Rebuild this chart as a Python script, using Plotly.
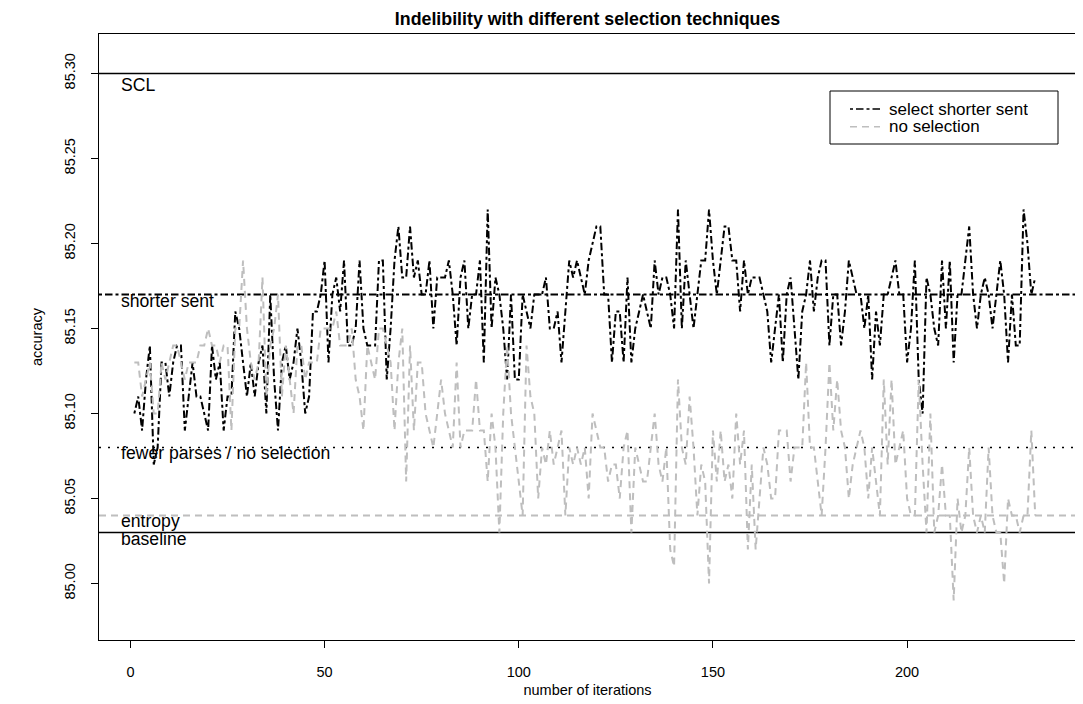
import plotly.graph_objects as go

# ---------------- data ----------------
shorter_sent = [
    85.10, 85.11, 85.09, 85.12, 85.14, 85.07, 85.08, 85.13, 85.13, 85.11,
    85.13, 85.14, 85.14, 85.09, 85.11, 85.13, 85.11, 85.11, 85.10, 85.09,
    85.14, 85.12, 85.13, 85.09, 85.11, 85.11, 85.16, 85.15, 85.13, 85.11,
    85.13, 85.11, 85.13, 85.14, 85.10, 85.17, 85.12, 85.09, 85.13, 85.14,
    85.12, 85.13, 85.15, 85.13, 85.10, 85.11, 85.16, 85.16, 85.17, 85.19,
    85.13, 85.17, 85.18, 85.16, 85.19, 85.14, 85.14, 85.15, 85.19, 85.15,
    85.14, 85.14, 85.14, 85.19, 85.19, 85.12, 85.15, 85.19, 85.21, 85.18,
    85.18, 85.21, 85.18, 85.19, 85.17, 85.17, 85.19, 85.15, 85.18, 85.18,
    85.18, 85.19, 85.17, 85.14, 85.18, 85.19, 85.15, 85.17, 85.17, 85.19,
    85.13, 85.22, 85.15, 85.18, 85.17, 85.15, 85.12, 85.17, 85.12, 85.12,
    85.17, 85.16, 85.15, 85.17, 85.17, 85.17, 85.18, 85.15, 85.15, 85.16,
    85.13, 85.16, 85.19, 85.18, 85.19, 85.18, 85.17, 85.19, 85.20, 85.21,
    85.21, 85.17, 85.17, 85.13, 85.16, 85.16, 85.13, 85.18, 85.13, 85.15,
    85.16, 85.17, 85.16, 85.15, 85.19, 85.17, 85.18, 85.18, 85.17, 85.15,
    85.22, 85.15, 85.19, 85.17, 85.15, 85.17, 85.19, 85.19, 85.22, 85.19,
    85.17, 85.19, 85.21, 85.21, 85.19, 85.19, 85.16, 85.19, 85.17, 85.18,
    85.18, 85.18, 85.17, 85.16, 85.13, 85.15, 85.17, 85.13, 85.17, 85.18,
    85.15, 85.12, 85.16, 85.17, 85.19, 85.16, 85.18, 85.19, 85.19, 85.14,
    85.17, 85.17, 85.14, 85.16, 85.19, 85.18, 85.17, 85.17, 85.15, 85.17,
    85.12, 85.16, 85.14, 85.17, 85.17, 85.18, 85.19, 85.17, 85.17, 85.13,
    85.15, 85.19, 85.12, 85.10, 85.18, 85.17, 85.15, 85.14, 85.19, 85.15,
    85.19, 85.13, 85.17, 85.17, 85.19, 85.21, 85.17, 85.15, 85.17, 85.18,
    85.17, 85.15, 85.17, 85.19, 85.17, 85.13, 85.17, 85.14, 85.14, 85.22,
    85.20, 85.17, 85.18,
]

no_selection = [
    85.13, 85.13, 85.11, 85.12, 85.13, 85.10, 85.10, 85.13, 85.12, 85.13,
    85.14, 85.14, 85.13, 85.12, 85.13, 85.13, 85.13, 85.14, 85.14, 85.15,
    85.14, 85.14, 85.13, 85.14, 85.14, 85.09, 85.15, 85.15, 85.19, 85.15,
    85.13, 85.12, 85.13, 85.18, 85.11, 85.14, 85.15, 85.17, 85.11, 85.14,
    85.12, 85.10, 85.14, 85.14, 85.12, 85.13, 85.13, 85.13, 85.15, 85.15,
    85.15, 85.15, 85.16, 85.14, 85.14, 85.14, 85.15, 85.12, 85.11, 85.09,
    85.14, 85.13, 85.12, 85.15, 85.15, 85.14, 85.13, 85.09, 85.13, 85.15,
    85.06, 85.14, 85.09, 85.13, 85.13, 85.10, 85.09, 85.08, 85.10, 85.12,
    85.10, 85.09, 85.08, 85.13, 85.08, 85.09, 85.09, 85.09, 85.12, 85.09,
    85.09, 85.06, 85.10, 85.08, 85.03, 85.10, 85.14, 85.10, 85.08, 85.06,
    85.04, 85.14, 85.11, 85.10, 85.05, 85.08, 85.07, 85.09, 85.07, 85.08,
    85.09, 85.04, 85.08, 85.07, 85.08, 85.07, 85.08, 85.05, 85.10, 85.09,
    85.08, 85.08, 85.06, 85.07, 85.07, 85.05, 85.08, 85.09, 85.03, 85.08,
    85.07, 85.06, 85.06, 85.08, 85.10, 85.07, 85.06, 85.08, 85.02, 85.01,
    85.12, 85.08, 85.07, 85.11, 85.08, 85.04, 85.07, 85.06, 85.00, 85.09,
    85.06, 85.09, 85.06, 85.07, 85.05, 85.10, 85.07, 85.09, 85.02, 85.07,
    85.02, 85.05, 85.08, 85.07, 85.05, 85.05, 85.09, 85.09, 85.09, 85.06,
    85.08, 85.08, 85.08, 85.13, 85.08, 85.08, 85.06, 85.04, 85.08, 85.13,
    85.09, 85.12, 85.09, 85.08, 85.05, 85.07, 85.08, 85.09, 85.08, 85.05,
    85.08, 85.06, 85.04, 85.12, 85.07, 85.12, 85.07, 85.08, 85.09, 85.05,
    85.04, 85.04, 85.12, 85.07, 85.03, 85.10, 85.03, 85.04, 85.07, 85.04,
    85.04, 84.99, 85.05, 85.03, 85.04, 85.08, 85.04, 85.03, 85.04, 85.03,
    85.08, 85.04, 85.03, 85.03, 85.00, 85.05, 85.04, 85.04, 85.03, 85.04,
    85.04, 85.09, 85.04,
]

iterations = list(range(1, len(shorter_sent) + 1))

series_names = ["select shorter sent", "no selection"]

ref_names = ["SCL", "shorter sent", "fewer parses / no selection", "entropy", "baseline"]
ref_values = [85.30, 85.17, 85.08, 85.04, 85.03]

x_ticks = [0, 50, 100, 150, 200]
y_ticks = [85.00, 85.05, 85.10, 85.15, 85.20, 85.25, 85.30]

# ---------------- styling ----------------
FONT = "Liberation Sans, Arial, Helvetica, sans-serif"
GRAY = "#bebebe"
DASHDOT = "3px,3px,7.5px,3px"
DASHED = "7px,5px"
DOTTED = "2px,7px"
LABEL_SIZE = 17.6
LEGEND_SIZE = 17
AXIS_SIZE = 14.5

series_styles = [
    dict(color="black", width=2, dash=DASHDOT),
    dict(color=GRAY, width=2, dash=DASHED),
]
ref_styles = [
    dict(color="black", width=1.4, dash="solid"),
    dict(color="black", width=2, dash=DASHDOT),
    dict(color="black", width=1.7, dash=DOTTED),
    dict(color=GRAY, width=2, dash=DASHED),
    dict(color="black", width=1.4, dash="solid"),
]
# label vertical placement (data units, centre of text)
label_y = [85.2931, 85.1661, 85.0770, 85.0366, 85.0264]

x_range = [-8.1, 243.5]
y_range = [84.98 - 0.0132, 85.31 + 0.0132]

# plot region in pixels (for the hand-made legend box)
PL, PR, PT, PB = 91, 1068, 26, 632


def px_x(p):
    return (p - PL) / (PR - PL)


def px_y(p):
    return (PB - p) / (PB - PT)


fig = go.Figure()

for name, vals, st in zip(series_names, [shorter_sent, no_selection], series_styles):
    fig.add_trace(go.Scatter(x=iterations, y=vals, mode="lines", name=name,
                             line=st, showlegend=False))

for name, val, st, ly in zip(ref_names, ref_values, ref_styles, label_y):
    fig.add_shape(type="line", xref="paper", x0=0, x1=1, yref="y", y0=val, y1=val,
                  line=st, layer="below")
    fig.add_annotation(x=-3, y=ly, xref="x", yref="y", text=name, showarrow=False,
                       xanchor="left", yanchor="middle",
                       font=dict(family=FONT, size=LABEL_SIZE, color="black"))

# legend (drawn like R's legend box)
fig.add_shape(type="rect", xref="paper", yref="paper",
              x0=px_x(822), x1=px_x(1050), y0=px_y(136), y1=px_y(83),
              line=dict(color="black", width=1), fillcolor="white")
for name, st, row_y in zip(series_names, series_styles, [101.0, 118.8]):
    fig.add_shape(type="line", xref="paper", yref="paper",
                  x0=px_x(842), x1=px_x(872), y0=px_y(row_y), y1=px_y(row_y),
                  line=dict(color=st["color"], width=1.5, dash=st["dash"]))
    fig.add_annotation(xref="paper", yref="paper", x=px_x(879), y=px_y(row_y),
                       text=name, showarrow=False, xanchor="left", yanchor="middle",
                       height=17, valign="middle",
                       font=dict(family=FONT, size=LEGEND_SIZE, color="black"))

fig.update_layout(
    width=1083, height=704,
    margin=dict(l=PL, r=1083 - PR, t=PT, b=704 - PB, autoexpand=False),
    paper_bgcolor="white", plot_bgcolor="white",
    font=dict(family=FONT, size=AXIS_SIZE, color="black"),
    title=dict(text="<b>Indelibility with different selection techniques</b>",
               x=0.5, xref="paper", xanchor="center",
               y=1 - 11 / 704, yref="container", yanchor="middle",
               font=dict(family=FONT, size=17.8, color="black")),
    showlegend=False,
)

fig.update_xaxes(
    range=x_range, tickvals=x_ticks, ticktext=[str(v) for v in x_ticks],
    automargin=False,
    showgrid=False, zeroline=False, showline=True, mirror=True,
    linecolor="black", linewidth=1, ticks="outside", ticklen=7, tickcolor="black",
    ticklabelstandoff=12,
    title=dict(text="number of iterations", standoff=5,
               font=dict(family=FONT, size=AXIS_SIZE)),
)
fig.update_yaxes(
    range=y_range, tickvals=y_ticks, ticktext=[f"{v:.2f}" for v in y_ticks],
    tickangle=-90, automargin=False,
    showgrid=False, zeroline=False, showline=True, mirror=True,
    linecolor="black", linewidth=1, ticks="outside", ticklen=7, tickcolor="black",
    ticklabelstandoff=10,
    title=dict(text="accuracy", standoff=16, font=dict(family=FONT, size=AXIS_SIZE)),
)

fig.write_html("out.html")
